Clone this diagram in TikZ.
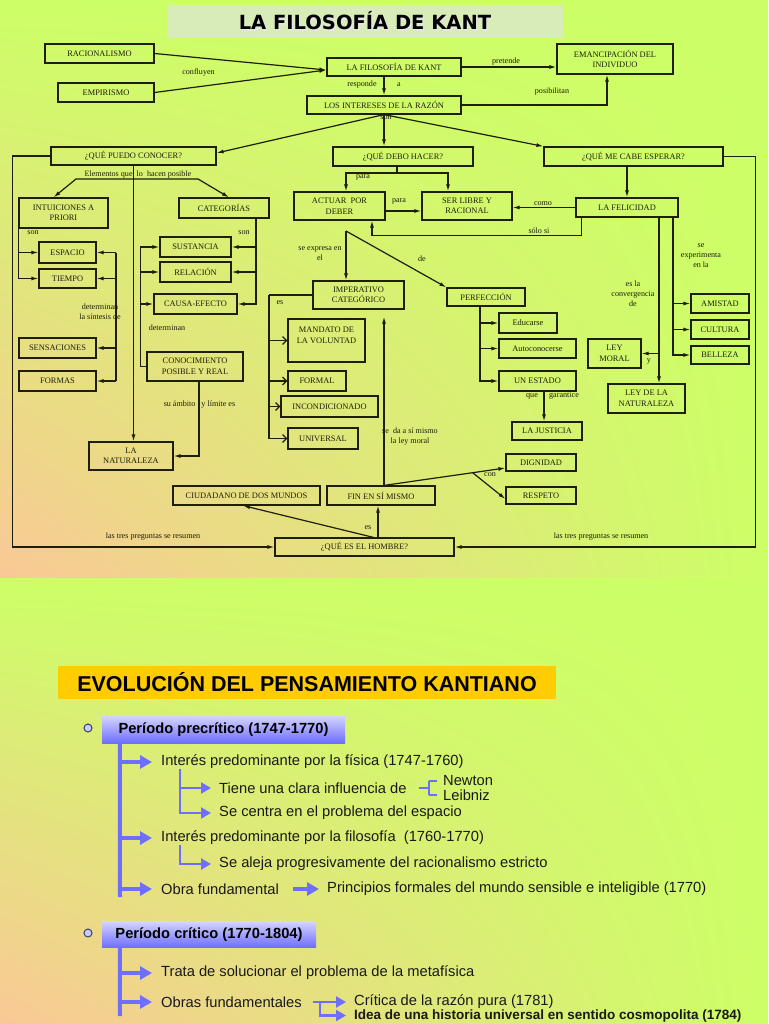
\documentclass[tikz,border=0pt]{standalone}
\usepackage{fontspec}
\setmainfont{Liberation Serif}
\setsansfont{Liberation Sans}
\newfontfamily\ttlfont{DejaVu Sans}
\usetikzlibrary{arrows.meta,shadings}
\definecolor{lime}{RGB}{204,255,102}
\definecolor{peach}{RGB}{250,200,150}
\definecolor{ink}{RGB}{30,30,10}
\definecolor{pale}{RGB}{216,236,184}
\definecolor{gold}{RGB}{255,204,0}
\definecolor{bluel}{RGB}{110,110,255}
\definecolor{lav}{RGB}{212,212,255}
\begin{document}
\begin{tikzpicture}[x=1pt, y=-1pt,
  box/.style={draw=ink, line width=1.2pt, text=ink, align=center, inner sep=0pt, font=\fontsize{8.4}{10.5}\selectfont},
  lbl/.style={text=ink, align=center, inner sep=0pt, font=\fontsize{8.1}{10}\selectfont},
  ln/.style={draw=ink, line width=1.2pt},
  arr/.style={ln, -{Latex[length=7pt,width=4pt]}},
  oarr/.style={ln, -{Straight Barb[length=4pt,width=8pt]}},
  item/.style={anchor=west, inner sep=3pt, text=black!90, font=\sffamily\fontsize{14.7}{16}\selectfont},
  hdr/.style={top color=lav, bottom color=bluel, inner sep=0pt, font=\sffamily\bfseries\fontsize{14.7}{16}\selectfont},
  bul/.style={circle, draw={rgb,255:red,60;green,60;blue,110}, fill={rgb,255:red,200;green,205;blue,255}, minimum size=8pt, inner sep=0pt, line width=1pt},
  bar/.style={draw=bluel, line width=4pt},
  barr/.style={bar, -{Triangle[length=12pt,width=13pt]}},
  sub/.style={draw=bluel, line width=2.2pt},
  subarr/.style={sub, -{Triangle[length=10pt,width=11pt]}}]

\useasboundingbox (0,0) rectangle (768,1024);
\clip (0,0) rectangle (768,1024);
\shade[upper left=lime, upper right=lime, lower left=peach, lower right=lime] (0,0) rectangle (768,578);
\shade[upper left=lime, upper right=lime, lower left=peach, lower right=lime] (0,578) rectangle (768,1024);

% titulo
\node[fill=pale, minimum width=396pt, minimum height=33pt, inner sep=0pt, font=\ttlfont\bfseries\fontsize{19.5}{22}\selectfont] (title) at (365,21.5) {\makebox[0pt][l]{\hspace{1.4pt}\raisebox{-1.4pt}{\color{white!80!gray}LA FILOSOFÍA DE KANT}}LA FILOSOFÍA DE KANT};

% cajas
\node[box, minimum width=109pt, minimum height=19pt] (racio) at (99.5,53.5) {RACIONALISMO};
\node[box, minimum width=96pt, minimum height=19pt] (empir) at (106,92.5) {EMPIRISMO};
\node[box, minimum width=134pt, minimum height=18pt] (kant) at (394,67) {LA FILOSOFÍA DE KANT};
\node[box, minimum width=116pt, minimum height=30pt] (eman) at (615,59) {EMANCIPACIÓN DEL\\INDIVIDUO};
\node[box, minimum width=154pt, minimum height=18pt] (razon) at (384,105) {LOS INTERESES DE LA RAZÓN};
\node[box, minimum width=165pt, minimum height=18pt] (puedo) at (133.5,156) {¿QUÉ PUEDO CONOCER?};
\node[box, minimum width=140pt, minimum height=19pt] (debo) at (403,156.5) {¿QUÉ DEBO HACER?};
\node[box, minimum width=179pt, minimum height=19pt] (cabe) at (633.5,156.5) {¿QUÉ ME CABE ESPERAR?};
\node[box, minimum width=89pt, minimum height=30pt] (intu) at (63.5,213) {INTUICIONES A\\PRIORI};
\node[box, minimum width=90pt, minimum height=20pt] (cate) at (224,208) {CATEGORÍAS};
\node[box, minimum width=57pt, minimum height=21pt] (espa) at (67.5,252.5) {ESPACIO};
\node[box, minimum width=57pt, minimum height=19pt] (tiem) at (67.5,278.5) {TIEMPO};
\node[box, minimum width=77pt, minimum height=20pt] (sens) at (57.5,348) {SENSACIONES};
\node[box, minimum width=77pt, minimum height=20pt] (formas) at (57.5,381) {FORMAS};
\node[box, minimum width=71pt, minimum height=20pt] (sust) at (195.5,247) {SUSTANCIA};
\node[box, minimum width=71pt, minimum height=20pt] (rela) at (195.5,272) {RELACIÓN};
\node[box, minimum width=83pt, minimum height=20pt] (causa) at (195.5,304) {CAUSA-EFECTO};
\node[box, minimum width=96pt, minimum height=29pt] (cono) at (195,366.5) {CONOCIMIENTO\\POSIBLE Y REAL};
\node[box, minimum width=84pt, minimum height=28pt] (natu) at (131,456) {LA\\NATURALEZA};
\node[box, minimum width=91pt, minimum height=28pt] (actu) at (339.5,206) {ACTUAR\ \ POR\\DEBER};
\node[box, minimum width=90pt, minimum height=28pt] (libre) at (467,206) {SER LIBRE Y\\RACIONAL};
\node[box, minimum width=102pt, minimum height=19pt] (feli) at (627,207.5) {LA FELICIDAD};
\node[box, minimum width=91pt, minimum height=28pt] (impe) at (358.5,295) {IMPERATIVO\\CATEGÓRICO};
\node[box, minimum width=78pt, minimum height=18pt] (perf) at (486,297) {PERFECCIÓN};
\node[box, minimum width=77pt, minimum height=43pt] (mand) at (326.5,340.5) {MANDATO DE\\LA VOLUNTAD\\\mbox{}};
\node[box, minimum width=58pt, minimum height=20pt] (formal) at (317,381) {FORMAL};
\node[box, minimum width=97pt, minimum height=21pt] (inco) at (329.5,406.5) {INCONDICIONADO};
\node[box, minimum width=70pt, minimum height=21pt] (univ) at (323,438.5) {UNIVERSAL};
\node[box, minimum width=108pt, minimum height=19pt] (fin) at (381,495.5) {FIN EN SÍ MISMO};
\node[box, minimum width=147pt, minimum height=19pt] (ciud) at (246.5,495.5) {CIUDADANO DE DOS MUNDOS};
\node[box, minimum width=179pt, minimum height=18pt] (homb) at (364.5,547) {¿QUÉ ES EL HOMBRE?};
\node[box, minimum width=70pt, minimum height=17pt] (dign) at (541,462.5) {DIGNIDAD};
\node[box, minimum width=70pt, minimum height=17pt] (resp) at (541,495.5) {RESPETO};
\node[box, minimum width=58pt, minimum height=20pt] (educ) at (528,323) {Educarse};
\node[box, minimum width=77pt, minimum height=19pt] (auto) at (537.5,348.5) {Autoconocerse};
\node[box, minimum width=77pt, minimum height=20pt] (esta) at (537.5,381) {UN ESTADO};
\node[box, minimum width=70pt, minimum height=18pt] (just) at (547,431) {LA JUSTICIA};
\node[box, minimum width=58pt, minimum height=19pt] (amis) at (720,303.5) {AMISTAD};
\node[box, minimum width=58pt, minimum height=19pt] (cult) at (720,329.5) {CULTURA};
\node[box, minimum width=58pt, minimum height=18pt] (bell) at (720,355) {BELLEZA};
\node[box, minimum width=53pt, minimum height=29pt] (lmor) at (614.5,353.5) {LEY\\MORAL};
\node[box, minimum width=77pt, minimum height=29pt] (lnat) at (646.5,398.5) {LEY DE LA\\NATURALEZA};

% flechas de arriba
\draw[arr] (racio.east) -- ([yshift=-3pt]kant.west);
\draw[arr] (empir.east) -- ([yshift=-3pt]kant.west);
\node[lbl] at (198.5,72.5) {confluyen};
\draw[arr] (kant.east) -- (kant.east -| eman.west);
\node[lbl] at (506,61.5) {pretende};
\draw[arr] (kant.south -| razon.north) -- (razon.north);
\node[lbl] at (362,85) {responde};
\node[lbl] at (399,85) {a};
\draw[arr] (razon.east) -| ([xshift=-8pt]eman.south);
\node[lbl] at (552,92) {posibilitan};
\node[lbl] at (386,118) {son};
\draw[arr] (razon.south) -- ([yshift=3pt]puedo.east);
\draw[arr] (razon.south) -- (razon.south |- debo.north);
\draw[arr] (razon.south) -- (cabe.north west);
\draw[arr] (puedo.west) -- ++(-38,0) |- (homb.west);
\draw[arr] (cabe.east) -- ++(32,0) |- (homb.east);
\node[lbl] at (153,537) {las tres preguntas se resumen};
\node[lbl] at (601,537) {las tres preguntas se resumen};

% que puedo conocer
\draw[arr] (puedo.south) -- (puedo.south |- natu.north);
\coordinate (elemL) at (76,179);
\coordinate (elemR) at (198,179);
\draw[arr] (elemR) -- (elemL) -- ([xshift=-10pt]intu.north);
\draw[arr] (elemR) -- ([xshift=5pt]cate.north);
\node[lbl] at (138,174.5) {Elementos que\ \ lo\ \ hacen posible};
\draw[arr] (intu.south west) |- (espa.west);
\draw[arr] (intu.south west) |- (tiem.west);
\node[lbl] at (33,233) {son};
\coordinate (detT) at (116,252.5);
\coordinate (detB) at (116,381);
\draw[ln] (detT) -- (detB);
\draw[arr] (detT) -- (espa.east);
\draw[arr] (tiem.east -| detT) -- (tiem.east);
\draw[arr] (sens.east -| detT) -- (sens.east);
\draw[arr] (detB) -- (formas.east);
\node[lbl] at (100,312) {determinan\\la síntesis de};
\coordinate (cateR) at ([xshift=32pt]cate.south);
\draw[arr] (cateR) |- (sust.east);
\draw[arr] (cateR) |- (rela.east);
\draw[arr] (cateR) |- (causa.east);
\node[lbl] at (244,233) {son};
\coordinate (conoL) at ([xshift=-6pt]cono.west);
\draw[ln] (cono.west) -- (conoL);
\draw[arr] (conoL) |- (sust.west);
\draw[arr] (conoL) |- (rela.west);
\draw[arr] (conoL) |- (causa.west);
\node[lbl] at (167,328) {determinan};
\draw[arr] ([xshift=4pt]cono.south) |- (natu.east);
\node[lbl] at (199.5,405) {su ámbito\hspace{6pt}y límite es};

% que debo hacer
\coordinate (para) at (397,173);
\draw[ln] ([xshift=-6pt]debo.south) -- (para);
\draw[arr] (para) -| ([xshift=6.5pt]actu.north);
\draw[arr] (para) -| ([xshift=-19pt]libre.north);
\node[lbl] at (363,177) {para};
\draw[arr] ([yshift=-5pt]actu.east) -- ([yshift=-5pt]libre.west);
\node[lbl] at (399,201) {para};
\draw[arr] (feli.north |- cabe.south) -- (feli.north);
\draw[arr] (feli.west) -- (feli.west -| libre.east);
\node[lbl] at (543,203.5) {como};
\draw[arr] ([xshift=6pt]feli.south west) -- ++(0,18) -| ([xshift=32.5pt]actu.south);
\node[lbl] at (539,231) {sólo si};
\coordinate (expr) at (346,231);
\draw[arr] (expr) -- (expr |- impe.north);
\draw[arr] (expr) -- (perf.north west);
\node[lbl] at (320,254) {se expresa en\\el};
\node[lbl] at (422,259) {de};
\coordinate (es) at (269,295);
\draw[ln] (impe.west) -- (es);
\draw[oarr] (es) |- (mand.west);
\draw[oarr] (es) |- (formal.west);
\draw[oarr] (es) |- (inco.west);
\draw[oarr] (es) |- (univ.west);
\node[lbl] at (280,303) {es};
\draw[arr] ([xshift=3pt]fin.north) -- ([xshift=25.5pt,yshift=-7pt]impe.south);
\node[lbl] at (410,437) {se\ \ da a sí mismo\\la ley moral};
\draw[arr] ([xshift=3pt]fin.north) -- coordinate[pos=0.73] (con) ([yshift=-5.5pt]dign.west);
\draw[arr] (con) -- ([yshift=-3.5pt]resp.west);
\node[lbl] at (490,475) {con};
\draw[arr] ([xshift=13.5pt]homb.north) -- ([xshift=-3pt]fin.south);
\draw[arr] ([xshift=9pt]homb.north) -- ([xshift=-3.5pt]ciud.south);
\node[lbl] at (368,528) {es};
\coordinate (perfL) at ([xshift=-6pt]perf.south);
\draw[arr] (perfL) |- (educ.west);
\draw[arr] (perfL) |- (auto.west);
\draw[arr] (perfL) |- (esta.west);
\draw[arr] ([xshift=6.5pt]esta.south) -- ([xshift=-3pt]just.north);
\node[lbl] at (532,396) {que};
\node[lbl] at (564,396) {garantice};

% que me cabe esperar
\coordinate (felA) at ([xshift=32pt]feli.south);
\coordinate (felB) at ([xshift=46pt]feli.south);
\draw[arr] (felA) -- (felA |- lnat.north);
\draw[arr] (felA |- lmor.east) -- (lmor.east);
\draw[arr] (felB) |- (amis.west);
\draw[arr] (felB) |- (cult.west);
\draw[arr] (felB) |- (bell.west);
\node[lbl] at (633,294) {es la\\convergencia\\de};
\node[lbl] at (649,362) {y};
\node[lbl] at (701,256) {se\\experimenta\\en la};

% evolucion
\node[fill=gold, minimum width=498pt, minimum height=33pt, inner sep=0pt, font=\sffamily\bfseries\fontsize{21.5}{24}\selectfont] (evol) at (307,682.5) {EVOLUCIÓN DEL PENSAMIENTO KANTIANO};

\node[bul] (b1) at (88,728) {};
\node[hdr, minimum width=243pt, minimum height=27pt] (pre) at (223.5,729.5) {Período precrítico (1747-1770)};
\coordinate (pend) at (120,897);
\draw[bar] ([xshift=18pt]pre.south west) -- (pend);
\node[item] (i1) at (158,762) {Interés predominante por la física (1747-1760)};
\node[item] (i2) at (158,838) {Interés predominante por la filosofía\ \ (1760-1770)};
\node[item] (i3) at (158,889) {Obra fundamental};
\node[item] (i4) at (324,889) {Principios formales del mundo sensible e inteligible (1770)};
\node[item] (s1) at (216,788) {Tiene una clara influencia de};
\node[item] (s2) at (216,813) {Se centra en el problema del espacio};
\node[item] (s3) at (216,864) {Se aleja progresivamente del racionalismo estricto};
\node[item] (newt) at (440,781) {Newton};
\node[item] (leib) at (440,795) {Leibniz};
\draw[barr] (i1.west -| pend) -- ([xshift=-6pt]i1.west);
\draw[barr] (i2.west -| pend) -- ([xshift=-6pt]i2.west);
\draw[barr] (i3.west -| pend) -- ([xshift=-6pt]i3.west);
\draw[barr] ([xshift=11pt]i3.east) -- ([xshift=-5pt]i4.west);
\coordinate (sA) at (180,769);
\draw[subarr] (sA) |- ([xshift=-5pt]s1.west);
\draw[subarr] (sA) |- ([xshift=-5pt]s2.west);
\coordinate (sB) at (180,845);
\draw[subarr] (sB) |- ([xshift=-5pt]s3.west);
\coordinate (brk) at (429,788);
\draw[sub] ([xshift=9pt]s1.east) -- (brk);
\draw[sub] (brk |- newt.west) -- (brk |- leib.west);
\draw[sub] (brk |- newt.west) -- ([xshift=-3pt]newt.west);
\draw[sub] (brk |- leib.west) -- ([xshift=-3pt]leib.west);

\node[bul] (b2) at (88,933) {};
\node[hdr, minimum width=214pt, minimum height=26pt] (cri) at (209,934.5) {Período crítico (1770-1804)};
\coordinate (cend) at (120,1016);
\draw[bar] ([xshift=18pt]cri.south west) -- (cend);
\node[item] (c1) at (158,973) {Trata de solucionar el problema de la metafísica};
\node[item] (c2) at (158,1002) {Obras fundamentales};
\node[item] (c3) at (351,1002) {Crítica de la razón pura (1781)};
\node[item, font=\sffamily\bfseries\fontsize{13.5}{15}\selectfont] (c4) at (351,1015.5) {Idea de una historia universal en sentido cosmopolita (1784)};
\draw[barr] (c1.west -| cend) -- ([xshift=-6pt]c1.west);
\draw[barr] (c2.west -| cend) -- ([xshift=-6pt]c2.west);
\draw[subarr] ([xshift=8pt]c2.east) -- ([xshift=-5pt]c3.west);
\coordinate (ob) at (320,1002);
\draw[subarr] (ob) |- ([xshift=-5pt]c4.west);
\end{tikzpicture}
\end{document}
